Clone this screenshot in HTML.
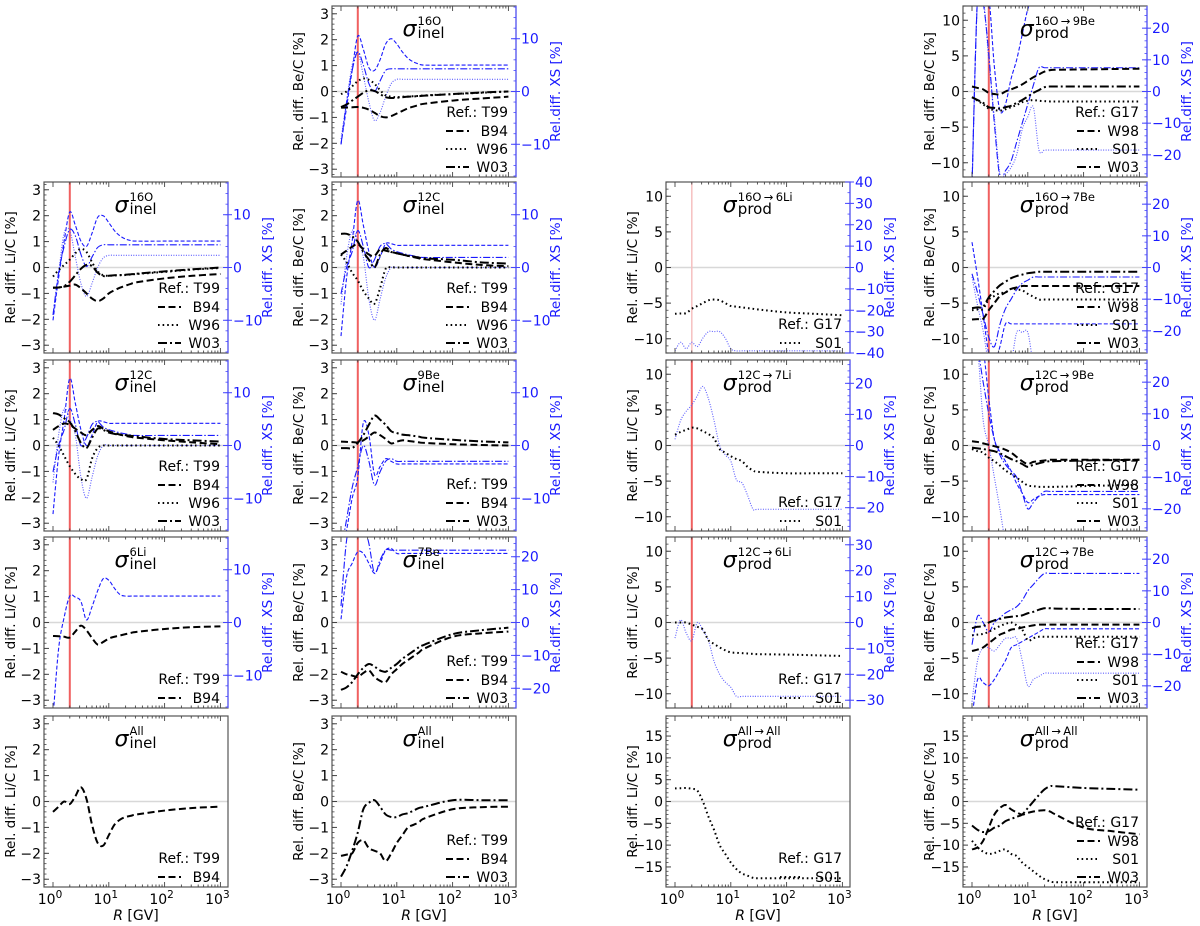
<!DOCTYPE html>
<html><head><meta charset="utf-8">
<style>
html,body{margin:0;padding:0;background:#fff;overflow:hidden;}
svg{display:block;font-family:"DejaVu Sans","Liberation Sans",sans-serif;}
</style></head>
<body>
<svg id="fig" width="1200" height="926" viewBox="0 0 1200 926" xmlns="http://www.w3.org/2000/svg"></svg>
<script>
// shared log10(R/GV) sample grid
const G = [0,0.1,0.2,0.3,0.4,0.5,0.6,0.7,0.8,0.9,1,1.1,1.2,1.3,1.4,1.5,2,2.5,3];
const xTickLabels = ["0","1","2","3"];

// ---- column 1 (Li/C, inelastic) ----
const c1r1_B94 = [-0.78,-0.77,-0.74,-0.7,-0.66,-0.8,-1.0,-1.2,-1.3,-1.2,-1.0,-0.88,-0.78,-0.7,-0.63,-0.57,-0.42,-0.32,-0.25];
const c1r1_W96 = [-0.35,-0.1,0.1,0.3,0.55,0.72,0.6,0.2,-0.15,-0.3,-0.32,-0.31,-0.3,-0.29,-0.27,-0.25,-0.17,-0.08,-0.02];
const c1r1_W03 = [-0.78,-0.77,-0.72,-0.55,-0.3,-0.05,0.1,0.05,-0.2,-0.33,-0.32,-0.3,-0.29,-0.28,-0.26,-0.24,-0.15,-0.07,0];
const c1r1_xsB94 = [-10,-2,5,10.5,8,5,4,6.5,9.5,9.8,8.5,7,6,5.4,5.1,5,5,5,5];
const c1r1_xsW96 = [-9,-1,6.5,7,2,-3,-5.5,-3,0,1.8,2.3,2.3,2.3,2.3,2.3,2.3,2.3,2.3,2.3];
const c1r1_xsW03 = [-9,-1,4,7.2,6,2.5,0.2,2,3.8,4.3,4.3,4.3,4.3,4.3,4.3,4.3,4.3,4.3,4.3];

const c1r2_B94 = [0.6,0.75,0.85,0.8,0.65,0.5,0.4,0.6,0.75,0.65,0.55,0.48,0.42,0.37,0.33,0.3,0.2,0.12,0.05];
const c1r2_W96 = [0.3,0,-0.4,-0.8,-1.1,-1.3,-1.3,-0.5,-0.1,0,0,0,0,0,0,0,0,0,0];
const c1r2_W03 = [1.25,1.2,1.05,0.9,0.55,0.1,-0.1,0.3,0.65,0.6,0.5,0.45,0.42,0.4,0.37,0.35,0.25,0.2,0.15];
const c1r2_xsB94 = [-13,-2,5,12.7,8,3,0,2,4.5,4.5,4.2,4.2,4.2,4.2,4.2,4.2,4.2,4.2,4.2];
const c1r2_xsW96 = [-7,2,7,5,2,-6,-10,-6,-2,0,0,0,0,0,0,0,0,0,0];
const c1r2_xsW03 = [-5,0,3,7,4,0,1.5,4,4.5,3.5,3,2.7,2.4,2.2,2,1.9,1.9,1.9,1.9];

const c1r3_B94 = [-0.52,-0.53,-0.55,-0.58,-0.35,-0.12,-0.3,-0.6,-0.85,-0.75,-0.62,-0.55,-0.5,-0.45,-0.4,-0.36,-0.25,-0.18,-0.15];
const c1r3_xsB94 = [-18,-5,1,5,4.8,4,0.5,3,6,8.3,8,6.5,5.3,5,5,5,5,5,5];

const c1r4_B94 = [-0.4,-0.2,0,-0.1,0.2,0.55,0.1,-0.9,-1.6,-1.7,-1.3,-0.9,-0.7,-0.6,-0.55,-0.5,-0.35,-0.25,-0.2];

// ---- column 2 (Be/C, inelastic) ----
const c2r0_B94 = [-0.62,-0.62,-0.61,-0.6,-0.63,-0.7,-0.82,-0.95,-1.0,-0.95,-0.85,-0.75,-0.65,-0.58,-0.52,-0.47,-0.35,-0.27,-0.2];
const c2r0_W96 = [-0.1,0,0.2,0.4,0.5,0.45,0.3,0.05,-0.15,-0.2,-0.22,-0.2,-0.2,-0.18,-0.17,-0.15,-0.1,-0.05,0];
const c2r0_W03 = [-0.6,-0.5,-0.35,-0.2,-0.05,0.05,0.02,-0.1,-0.22,-0.25,-0.24,-0.22,-0.2,-0.19,-0.18,-0.16,-0.1,-0.04,0];
const c2r0_xsB94 = [-10,-3,4,10.5,8,4.5,4,6,9,10,9,7.5,6.3,5.6,5.2,5,5,5,5];
const c2r0_xsW96 = [-9,-2,5,7.5,3,-2,-5.5,-4,-1,1.5,2.3,2.3,2.3,2.3,2.3,2.3,2.3,2.3,2.3];
const c2r0_xsW03 = [-10,-2,4,7.5,5,1.5,0,2,4,4.3,4.3,4.3,4.3,4.3,4.3,4.3,4.3,4.3,4.3];

const c2r1_B94 = [0.5,0.65,0.8,0.9,0.7,0.5,0.45,0.7,0.65,0.6,0.55,0.5,0.45,0.4,0.35,0.32,0.2,0.1,0.05];
const c2r1_W96 = [0.5,0.2,-0.2,-0.5,-0.9,-1.2,-1.4,-0.8,-0.05,0,0,0,0,0,0,0,0,0,0];
const c2r1_W03 = [1.3,1.3,1.2,1.0,0.6,0.3,0,0.5,0.75,0.6,0.55,0.5,0.45,0.42,0.38,0.35,0.3,0.2,0.15];
const c2r1_xsB94 = [-13,-2,5,12.7,8,3,0,2,4.5,4.5,4.2,4.2,4.2,4.2,4.2,4.2,4.2,4.2,4.2];
const c2r1_xsW96 = [-7,2,7,5,2,-6,-10,-6,-2,0,0,0,0,0,0,0,0,0,0];
const c2r1_xsW03 = [-5,0,3,7,4,0,1.5,4,4.5,3.5,3,2.7,2.4,2.2,2,1.9,1.9,1.9,1.9];

const c2r2_B94 = [0.15,0.14,0.13,0.12,0.2,0.35,0.5,0.4,0.25,0.08,0.15,0.2,0.18,0.15,0.12,0.1,0.05,0.02,0];
const c2r2_W03 = [-0.1,-0.1,-0.1,0.1,0.4,0.8,1.15,1.0,0.8,0.55,0.48,0.42,0.4,0.37,0.34,0.3,0.22,0.16,0.12];
const c2r2_xsB94 = [-20,-16,-10,-6,4.3,2,-5.5,-4,-2.5,-3,-3.5,-3.5,-3.5,-3.5,-3.5,-3.5,-3.5,-3.5,-3.5];
const c2r2_xsW03 = [-20,-14,-8,-4,0,-3,-7.5,-5,-3,-2.5,-3,-3,-3,-3,-3,-3,-3,-3,-3];

const c2r3_B94 = [-1.9,-2.0,-2.05,-2.1,-1.95,-1.85,-2.1,-2.25,-2.3,-2.0,-1.8,-1.6,-1.45,-1.3,-1.15,-1.0,-0.55,-0.42,-0.35];
const c2r3_W03 = [-2.6,-2.5,-2.3,-2.0,-1.75,-1.6,-1.7,-1.85,-1.9,-1.75,-1.6,-1.4,-1.25,-1.1,-0.95,-0.85,-0.45,-0.3,-0.2];
const c2r3_xsB94 = [1,14,18,21.5,21,18,15,18,22,22.5,21,21,21,21,21,21,21,21,21];
const c2r3_xsW03 = [5,25,30,30,30,24,15,19,22,22,22,22,22,22,22,22,22,22,22];

const c2r4_B94 = [-2.1,-2.05,-2.0,-1.6,-1.5,-1.8,-1.9,-2.0,-2.3,-2.0,-1.6,-1.3,-1.0,-0.9,-0.8,-0.65,-0.3,-0.22,-0.2];
const c2r4_W03 = [-2.9,-2.5,-1.9,-1.2,-0.3,-0.05,0.05,-0.2,-0.5,-0.6,-0.6,-0.5,-0.45,-0.35,-0.25,-0.2,0.05,0.05,0.05];

// ---- column 3 (Li/C, production) ----
const c3r1_S01 = [-6.5,-6.45,-6.4,-5.8,-5.4,-5.0,-4.6,-4.5,-4.6,-5.0,-5.4,-5.5,-5.6,-5.7,-5.8,-5.9,-6.3,-6.5,-6.7];
const c3r1_xsS01 = [-39,-35,-38,-35,-37,-33,-30,-30,-30,-33,-38,-39,-39,-39,-39,-39,-39,-39,-39];
const c3r2_S01 = [1.5,1.9,2.2,2.5,2.4,2.0,1.6,1.0,-0.5,-1.0,-1.5,-1.9,-2.2,-3.0,-3.5,-3.7,-3.9,-3.9,-3.9];
const c3r2_xsS01 = [2,8,11,13,16,19,15,8,0,-3,-5,-11,-12,-16,-20.5,-20.5,-20.5,-20.5,-20.5];
const c3r3_S01 = [0,0,0,-0.3,-0.6,-1.0,-2.5,-3.0,-3.5,-3.9,-4.2,-4.25,-4.3,-4.35,-4.4,-4.45,-4.5,-4.6,-4.7];
const c3r3_xsS01 = [-6,1,-4,-7,0,-3,-7,-15,-20,-23,-25,-28.5,-28.5,-28.5,-28.5,-28.5,-28.5,-28.5,-28.5];
const c3r4_S01 = [3,3.05,3.1,2.9,2.5,0,-3.5,-6.5,-10,-12,-14,-15.5,-16.5,-17,-17.5,-17.6,-17.6,-17.6,-17.6];

// ---- column 4 (Be/C, production) ----
const c4r0_W98 = [0.7,0.5,0.3,-0.2,-0.35,-0.4,0,0.3,0.6,1.0,1.5,2,2.4,2.8,3.0,3.05,3.1,3.15,3.2];
const c4r0_S01 = [-0.8,-1.3,-1.8,-2.4,-2.6,-2.7,-2.5,-2.2,-1.9,-1.5,-1.3,-1.2,-1.3,-1.35,-1.4,-1.4,-1.4,-1.4,-1.4];
const c4r0_W03 = [-0.8,-1.2,-1.6,-2.2,-2.3,-2.4,-2.2,-2.0,-1.6,-1.2,-0.7,-0.2,0.2,0.6,0.7,0.7,0.7,0.7,0.7];
const c4r0_xsW98 = [-30,30,30,30,8,-6,-4,4,10,18,26,30,30,30,30,30,30,30,30];
const c4r0_xsS01 = [-30,30,30,10,-8,-26,-26,-24,-20,-12,-8,-5,-18.5,-18.5,-18.5,-18.5,-18.5,-18.5,-18.5];
const c4r0_xsW03 = [-30,30,28,12,-10,-27,-25,-22,-16,-10,-4,2,7.5,7.5,7.5,7.5,7.5,7.5,7.5];

const c4r1_W98 = [-7.3,-7.25,-7.2,-6,-5,-4,-3.5,-3,-2.8,-2.6,-2.6,-2.6,-2.6,-2.6,-2.6,-2.6,-2.6,-2.6,-2.6];
const c4r1_S01 = [-6,-5.9,-5.8,-4.5,-4,-3.6,-3.5,-3,-3.1,-3.2,-3.7,-4.1,-4.5,-4.5,-4.5,-4.5,-4.5,-4.5,-4.5];
const c4r1_W03 = [-5.7,-5.6,-5.5,-4.2,-3.3,-2.5,-2,-1.5,-1.2,-1.0,-0.8,-0.7,-0.6,-0.6,-0.6,-0.6,-0.6,-0.6,-0.6];
const c4r1_xsW98 = [8,-3,-15,-27,-30,-25,-17.8,-17.8,-17.8,-17.8,-17.8,-17.8,-17.8,-17.8,-17.8,-17.8,-17.8,-17.8,-17.8];
const c4r1_xsS01 = [-3,-12,-20,-30,-30,-30,-30,-30,-20.5,-20.5,-20.5,-30,-30,-30,-30,-30,-30,-30,-30];
const c4r1_xsW03 = [-2,-8,-15,-22,-25,-18,-13,-10,-7,-5,-4,-3,-3,-3,-3,-3,-3,-3,-3];

const c4r2_W98 = [0.6,0.5,0.3,0.1,-0.1,-0.3,-0.6,-1.0,-1.6,-2.2,-2.6,-2.3,-2.2,-2.1,-2.0,-2.0,-2.0,-2.0,-2.0];
const c4r2_S01 = [-0.5,-0.8,-1.0,-1.7,-2.2,-2.8,-3.5,-4.0,-4.5,-5.1,-5.6,-5.7,-5.8,-5.8,-5.8,-5.8,-5.7,-5.6,-5.5];
const c4r2_W03 = [-0.3,-0.4,-0.5,-0.65,-0.8,-1.1,-1.5,-1.9,-2.2,-2.6,-3.0,-2.7,-2.5,-2.3,-2.2,-2.2,-2.1,-2.05,-2.0];
const c4r2_xsW98 = [30,30,30,15,2,-2,-5,-8,-12,-15,-18,-17,-16,-15.5,-15.5,-15.5,-15.5,-15.5,-15.5];
const c4r2_xsS01 = [30,30,8,0,-10,-20,-30,-30,-30,-30,-30,-30,-30,-30,-30,-30,-30,-30,-30];
const c4r2_xsW03 = [30,30,20,10,2,-3,-6,-8,-10,-15,-20,-18,-16,-14.5,-14.5,-14.5,-14.5,-14.5,-14.5];

const c4r3_W98 = [-4,-3.8,-3.5,-2.9,-2.3,-1.7,-1.4,-1.0,-0.9,-0.7,-0.55,-0.4,-0.3,-0.3,-0.3,-0.3,-0.3,-0.3,-0.3];
const c4r3_S01 = [-1.8,-1.7,-1.6,-1.3,-0.9,-0.5,-0.2,0,-0.4,-1.0,-2.5,-2.2,-2.0,-2.0,-2.0,-2.0,-2.0,-2.0,-2.0];
const c4r3_W03 = [-0.8,-0.6,-0.5,0,0.3,0.5,0.7,0.8,0.9,1.0,1.3,1.5,1.8,2.0,2.0,1.95,1.9,1.9,1.9];
const c4r3_xsW98 = [-30,-18,-19,-20,-18,-15,-12,-8,-7,-6,-5,-4,-3,-2,-2,-2,-2,-2,-2];
const c4r3_xsS01 = [-25,-12,-8,-8,-9,-7,-5,-5,-5,-12,-20,-18,-17,-16,-16,-16,-16,-16,-16];
const c4r3_xsW03 = [-7,2,0,-3,0,1.5,3,4,5,7,10,12,14,15.5,15.5,15.5,15.5,15.5,15.5];

const c4r4_W98 = [-11,-10.5,-9,-6,-3,-1.5,-0.8,-1.8,-2.5,-3,-2.6,-2.3,-2.1,-2,-2.3,-3,-6,-6.8,-7.5];
const c4r4_S01 = [-9,-10.5,-11.5,-12,-11.8,-11.3,-11,-12,-12.5,-14,-15,-16,-17,-17.8,-18.3,-18.5,-18.5,-18.5,-18.5];
const c4r4_W03 = [-5.5,-6.5,-7,-6.8,-6,-5.5,-4.5,-4,-3.5,-3,-1.5,0,1.5,2.8,3.5,3.5,3.1,2.9,2.7];

// ---------------------------------------------------------------
const NS = "http://www.w3.org/2000/svg";
const svg = document.getElementById("fig");
const COLX = [44,332,666,963], ROWY = [6,182,360,537,716], PW = 184, PH = 171;
const DASH = {dash:"7,3.5", dot:"1.6,3", dashdot:"9,3,2,3"};
const BDASH = {dash:"4,2", dot:"1,1.5", dashdot:"7,2,1.5,2"};

function el(tag, attrs, parent){
  const e = document.createElementNS(NS, tag);
  for (const k in attrs) e.setAttribute(k, attrs[k]);
  (parent||svg).appendChild(e);
  return e;
}
function smoothPath(pts){
  let d = "M" + pts[0][0].toFixed(2) + "," + pts[0][1].toFixed(2);
  for (let i=0;i<pts.length-1;i++){
    const p0 = pts[Math.max(0,i-1)], p1 = pts[i], p2 = pts[i+1], p3 = pts[Math.min(pts.length-1,i+2)];
    const c1 = [p1[0]+(p2[0]-p0[0])/6, p1[1]+(p2[1]-p0[1])/6];
    const c2 = [p2[0]-(p3[0]-p1[0])/6, p2[1]-(p3[1]-p1[1])/6];
    d += " C" + c1[0].toFixed(2)+","+c1[1].toFixed(2)+" "+c2[0].toFixed(2)+","+c2[1].toFixed(2)+" "+p2[0].toFixed(2)+","+p2[1].toFixed(2);
  }
  return d;
}

const panels = [
 {id:"c2r0", c:1, r:0, ylab:"Be/C", sup:"16O", sub:"inel", yl:3.3, yt:[-3,-2,-1,0,1,2,3], rl:16.2, rt:[-10,0,10], ref:"T99",
  ser:[["B94","dash",c2r0_B94],["W96","dot",c2r0_W96],["W03","dashdot",c2r0_W03]], xs:[["dash",c2r0_xsB94],["dot",c2r0_xsW96],["dashdot",c2r0_xsW03]]},
 {id:"c4r0", c:3, r:0, ylab:"Be/C", sup:"16O\u2009\u2192\u20099Be", sub:"prod", yl:12, yt:[-10,-5,0,5,10], rl:27, rt:[-20,-10,0,10,20], ref:"G17",
  ser:[["W98","dash",c4r0_W98],["S01","dot",c4r0_S01],["W03","dashdot",c4r0_W03]], xs:[["dash",c4r0_xsW98],["dot",c4r0_xsS01],["dashdot",c4r0_xsW03]]},
 {id:"c1r1", c:0, r:1, ylab:"Li/C", sup:"16O", sub:"inel", yl:3.3, yt:[-3,-2,-1,0,1,2,3], rl:16.2, rt:[-10,0,10], ref:"T99",
  ser:[["B94","dash",c1r1_B94],["W96","dot",c1r1_W96],["W03","dashdot",c1r1_W03]], xs:[["dash",c1r1_xsB94],["dot",c1r1_xsW96],["dashdot",c1r1_xsW03]]},
 {id:"c2r1", c:1, r:1, ylab:"Be/C", sup:"12C", sub:"inel", yl:3.3, yt:[-3,-2,-1,0,1,2,3], rl:16.2, rt:[-10,0,10], ref:"T99",
  ser:[["B94","dash",c2r1_B94],["W96","dot",c2r1_W96],["W03","dashdot",c2r1_W03]], xs:[["dash",c2r1_xsB94],["dot",c2r1_xsW96],["dashdot",c2r1_xsW03]]},
 {id:"c3r1", c:2, r:1, ylab:"Li/C", sup:"16O\u2009\u2192\u20096Li", sub:"prod", yl:12, yt:[-10,-5,0,5,10], rl:40, rt:[-40,-30,-20,-10,0,10,20,30,40], ref:"G17", faint:true,
  ser:[["S01","dot",c3r1_S01]], xs:[["dot",c3r1_xsS01]]},
 {id:"c4r1", c:3, r:1, ylab:"Be/C", sup:"16O\u2009\u2192\u20097Be", sub:"prod", yl:12, yt:[-10,-5,0,5,10], rl:27, rt:[-20,-10,0,10,20], ref:"G17",
  ser:[["W98","dash",c4r1_W98],["S01","dot",c4r1_S01],["W03","dashdot",c4r1_W03]], xs:[["dash",c4r1_xsW98],["dot",c4r1_xsS01],["dashdot",c4r1_xsW03]]},
 {id:"c1r2", c:0, r:2, ylab:"Li/C", sup:"12C", sub:"inel", yl:3.3, yt:[-3,-2,-1,0,1,2,3], rl:16.2, rt:[-10,0,10], ref:"T99",
  ser:[["B94","dash",c1r2_B94],["W96","dot",c1r2_W96],["W03","dashdot",c1r2_W03]], xs:[["dash",c1r2_xsB94],["dot",c1r2_xsW96],["dashdot",c1r2_xsW03]]},
 {id:"c2r2", c:1, r:2, ylab:"Be/C", sup:"9Be", sub:"inel", yl:3.3, yt:[-3,-2,-1,0,1,2,3], rl:16.2, rt:[-10,0,10], ref:"T99",
  ser:[["B94","dash",c2r2_B94],["W03","dashdot",c2r2_W03]], xs:[["dash",c2r2_xsB94],["dashdot",c2r2_xsW03]]},
 {id:"c3r2", c:2, r:2, ylab:"Li/C", sup:"12C\u2009\u2192\u20097Li", sub:"prod", yl:12, yt:[-10,-5,0,5,10], rl:27.5, rt:[-20,-10,0,10,20], ref:"G17",
  ser:[["S01","dot",c3r2_S01]], xs:[["dot",c3r2_xsS01]]},
 {id:"c4r2", c:3, r:2, ylab:"Be/C", sup:"12C\u2009\u2192\u20099Be", sub:"prod", yl:12, yt:[-10,-5,0,5,10], rl:27, rt:[-20,-10,0,10,20], ref:"G17",
  ser:[["W98","dash",c4r2_W98],["S01","dot",c4r2_S01],["W03","dashdot",c4r2_W03]], xs:[["dash",c4r2_xsW98],["dot",c4r2_xsS01],["dashdot",c4r2_xsW03]]},
 {id:"c1r3", c:0, r:3, ylab:"Li/C", sup:"6Li", sub:"inel", yl:3.3, yt:[-3,-2,-1,0,1,2,3], rl:16.2, rt:[-10,0,10], ref:"T99",
  ser:[["B94","dash",c1r3_B94]], xs:[["dash",c1r3_xsB94]]},
 {id:"c2r3", c:1, r:3, ylab:"Be/C", sup:"7Be", sub:"inel", yl:3.3, yt:[-3,-2,-1,0,1,2,3], rl:26, rt:[-20,-10,0,10,20], ref:"T99",
  ser:[["B94","dash",c2r3_B94],["W03","dashdot",c2r3_W03]], xs:[["dash",c2r3_xsB94],["dashdot",c2r3_xsW03]]},
 {id:"c3r3", c:2, r:3, ylab:"Li/C", sup:"12C\u2009\u2192\u20096Li", sub:"prod", yl:12, yt:[-10,-5,0,5,10], rl:33, rt:[-30,-20,-10,0,10,20,30], ref:"G17",
  ser:[["S01","dot",c3r3_S01]], xs:[["dot",c3r3_xsS01]]},
 {id:"c4r3", c:3, r:3, ylab:"Be/C", sup:"12C\u2009\u2192\u20097Be", sub:"prod", yl:12, yt:[-10,-5,0,5,10], rl:27, rt:[-20,-10,0,10,20], ref:"G17",
  ser:[["W98","dash",c4r3_W98],["S01","dot",c4r3_S01],["W03","dashdot",c4r3_W03]], xs:[["dash",c4r3_xsW98],["dot",c4r3_xsS01],["dashdot",c4r3_xsW03]]},
 {id:"c1r4", c:0, r:4, ylab:"Li/C", sup:"All", sub:"inel", yl:3.3, yt:[-3,-2,-1,0,1,2,3], ref:"T99",
  ser:[["B94","dash",c1r4_B94]], xs:[]},
 {id:"c2r4", c:1, r:4, ylab:"Be/C", sup:"All", sub:"inel", yl:3.3, yt:[-3,-2,-1,0,1,2,3], ref:"T99",
  ser:[["B94","dash",c2r4_B94],["W03","dashdot",c2r4_W03]], xs:[]},
 {id:"c3r4", c:2, r:4, ylab:"Li/C", sup:"All\u2009\u2192\u2009All", sub:"prod", yl:19.6, yt:[-15,-10,-5,0,5,10,15], ref:"G17",
  ser:[["S01","dot",c3r4_S01]], xs:[]},
 {id:"c4r4", c:3, r:4, ylab:"Be/C", sup:"All\u2009\u2192\u2009All", sub:"prod", yl:19.6, yt:[-15,-10,-5,0,5,10,15], ref:"G17",
  ser:[["W98","dash",c4r4_W98],["S01","dot",c4r4_S01],["W03","dashdot",c4r4_W03]], xs:[]}
];

function fmt(v){ return (v<0?"\u2212":"") + Math.abs(v); }

panels.forEach(p => {
  const L = COLX[p.c], T = ROWY[p.r], R = L+PW, B = T+PH;
  const g = el("g", {});
  
  
  const xS = lx => L + 9 + 55.8*lx;
  const yS = v => (T+B)/2 - v*(PH/2)/p.yl;
  const ryS = v => (T+B)/2 - v*(PH/2)/p.rl;
  const clipId = "clip-" + p.id;
  const cp = el("clipPath", {id:clipId}, g);
  el("rect", {x:L, y:T, width:PW, height:PH}, cp);

  const z = el("line", {x1:L, x2:R, y1:yS(0), y2:yS(0), stroke:"#d8d8d8", "stroke-width":1.5}, g);
  
  

  if (p.rl){
    const rl = el("line", {x1:xS(Math.log10(2)), x2:xS(Math.log10(2)), y1:T, y2:B, stroke:p.faint?"#f6c0c0":"#f06060", "stroke-width":p.faint?1.5:2}, g);
    
    
  }

  p.xs.forEach(s => {
    const pts = G.map((lx,i) => [xS(lx), ryS(s[1][i])]);
    const path = el("path", {d:smoothPath(pts), fill:"none", stroke:s[0]==="dot"?"#5a5aff":"#1a1aff", "stroke-width":1.1, "stroke-dasharray":BDASH[s[0]], "clip-path":"url(#"+clipId+")"}, g);
    
    
  });

  p.ser.forEach(s => {
    const pts = G.map((lx,i) => [xS(lx), yS(s[2][i])]);
    const path = el("path", {d:smoothPath(pts), fill:"none", stroke:"#000", "stroke-width":2, "stroke-dasharray":DASH[s[1]], "clip-path":"url(#"+clipId+")"}, g);
    
    
  });

  const fr = el("rect", {x:L, y:T, width:PW, height:PH, fill:"none", stroke:"#555", "stroke-width":1.2}, g);
  
  
  if (p.rl){
    const rs = el("line", {x1:R, x2:R, y1:T, y2:B, stroke:"#6a6aff", "stroke-width":1.4}, g);
    
    
  }

  for (let d=0; d<=3; d++){
    for (let m=1; m<=9; m++){
      const lx = d + Math.log10(m);
      if (lx>3) break;
      const len = m===1?5:2.5;
      el("line", {x1:xS(lx), x2:xS(lx), y1:B, y2:B-len, stroke:"#444", "stroke-width":0.9}, g);
      el("line", {x1:xS(lx), x2:xS(lx), y1:T, y2:T+len, stroke:"#444", "stroke-width":0.9}, g);
    }
  }
  if (p.r===4){
    xTickLabels.forEach((t,i) => {
      const tx = el("text", {x:xS(i)-3, y:B+17, "font-size":14, "text-anchor":"middle", fill:"#000"}, g);
      
      
      tx.textContent = "10";
      const sp = el("tspan", {dy:-6, "font-size":10.5}, tx);
      sp.textContent = t;
    });
    const xl = el("text", {x:(L+R)/2, y:B+33, "font-size":14, "text-anchor":"middle"}, g);
    
    
    const it = el("tspan", {"font-style":"italic"}, xl); it.textContent = "R";
    const rest = el("tspan", {}, xl); rest.textContent = " [GV]";
  }

  const ystep = p.yl>5 ? 1 : 0.2;
  for (let v=-Math.floor(p.yl/ystep)*ystep; v<=p.yl+1e-9; v+=ystep){
    el("line", {x1:L, x2:L+2.5, y1:yS(v), y2:yS(v), stroke:"#444", "stroke-width":0.8}, g);
  }
  p.yt.forEach(v => {
    el("line", {x1:L, x2:L+5, y1:yS(v), y2:yS(v), stroke:"#444", "stroke-width":1}, g);
    const t = el("text", {x:L-3, y:yS(v)+5, "font-size":14, "text-anchor":"end"}, g);
    
    
    t.textContent = fmt(v);
  });
  const yl = el("text", {x:0, y:0, "font-size":13.5, "text-anchor":"middle", transform:"translate("+(L-29)+","+((T+B)/2)+") rotate(-90)"}, g);
  
  
  yl.textContent = "Rel. diff. " + p.ylab + "  [%]";

  if (p.rl){
    const rstep = p.rl>30 ? 5 : 2;
    for (let v=-Math.floor(p.rl/rstep)*rstep; v<=p.rl+1e-9; v+=rstep){
      el("line", {x1:R, x2:R-2.5, y1:ryS(v), y2:ryS(v), stroke:"#4444ff", "stroke-width":0.8}, g);
    }
    p.rt.forEach(v => {
      el("line", {x1:R, x2:R-5, y1:ryS(v), y2:ryS(v), stroke:"#4444ff", "stroke-width":1}, g);
      el("line", {x1:R, x2:R+4, y1:ryS(v), y2:ryS(v), stroke:"#4444ff", "stroke-width":1}, g);
      const t = el("text", {x:R+5, y:ryS(v)+5, "font-size":14, fill:"#1a1aff"}, g);
      
      
      t.textContent = fmt(v);
    });
    const rl2 = el("text", {x:0, y:0, "font-size":13.5, "text-anchor":"middle", fill:"#1a1aff", transform:"translate("+(R+44)+","+((T+B)/2)+") rotate(-90)"}, g);
    
    
    rl2.textContent = "Rel.diff. XS  [%]";
  }

  // title sigma
  const supW = p.sup.length*6.6, subW = p.sub.length*8;
  const tw = 15 + Math.max(supW, subW);
  const x0 = (L+R)/2 - tw/2 + 2;
  const tg = el("g", {}, g);
  
  
  const sg = el("text", {x:x0, y:T+30, "font-size":22, "font-style":"italic"}, tg); sg.textContent = "\u03c3";
  const su = el("text", {x:x0+15, y:T+19, "font-size":11.5}, tg); su.textContent = p.sup;
  const sb = el("text", {x:x0+15, y:T+32, "font-size":15}, tg); sb.textContent = p.sub;

  // legend
  const n = p.ser.length;
  const lg = el("g", {}, g);
  
  
  const rt = el("text", {x:R-8, y:B-18*n-6, "font-size":14, "text-anchor":"end"}, lg);
  rt.textContent = "Ref.: " + p.ref;
  p.ser.forEach((s,i) => {
    const cy = B - 10 - 18*(n-1-i);
    const e = el("g", {}, lg);
    
    
    el("line", {x1:R-70, x2:R-47, y1:cy, y2:cy, stroke:"#000", "stroke-width":2, "stroke-dasharray":DASH[s[1]]}, e);
    const tt = el("text", {x:R-8, y:cy+5, "font-size":14, "text-anchor":"end"}, e);
    tt.textContent = s[0];
  });
});
</script>
</body></html>
